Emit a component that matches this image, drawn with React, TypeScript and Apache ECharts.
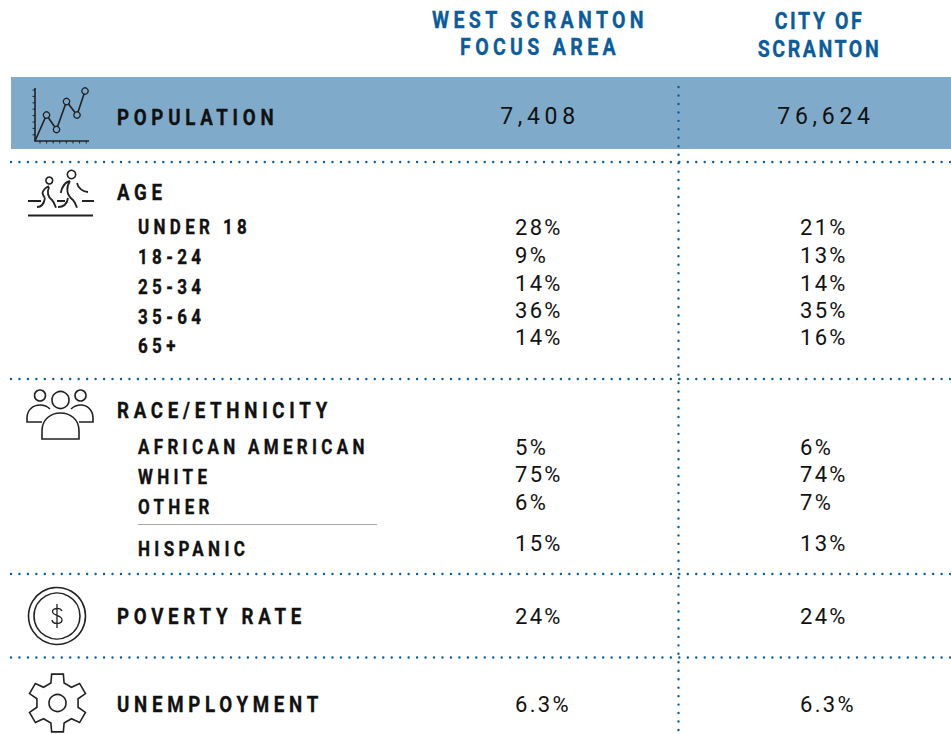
import React, { useEffect, useRef } from "react";
import * as echarts from "echarts";

const headerWest = ["WEST SCRANTON", "FOCUS AREA"];
const headerCity = ["CITY OF", "SCRANTON"];
const populationLabel = "POPULATION";
const populationValues = ["7,408", "76,624"];
const ageLabel = "AGE";
const ageGroups = ["UNDER 18", "18-24", "25-34", "35-64", "65+"];
const ageWest = ["28%", "9%", "14%", "36%", "14%"];
const ageCity = ["21%", "13%", "14%", "35%", "16%"];
const raceLabel = "RACE/ETHNICITY";
const raceGroups = ["AFRICAN AMERICAN", "WHITE", "OTHER", "HISPANIC"];
const raceWest = ["5%", "75%", "6%", "15%"];
const raceCity = ["6%", "74%", "7%", "13%"];
const povertyLabel = "POVERTY RATE";
const povertyValues = ["24%", "24%"];
const unemploymentLabel = "UNEMPLOYMENT";
const unemploymentValues = ["6.3%", "6.3%"];

const ageLabelY = [228, 258, 288, 318, 347];
const ageValueY = [227.5, 255.5, 283.5, 310.5, 337.5];
const raceLabelY = [448, 478, 508, 550];
const raceValueY = [447.5, 474.5, 502.5, 543.5];
const dividerY = [162, 379, 574, 657.5];
const WEST_X = 515;
const CITY_X = 800;
const BLUE = "#0b5c9b";
const INK = "#111";

const ICON_STROKE = { fill: "none", stroke: "#222", lineWidth: 1.6 };

function gearPoints(cx: number, cy: number) {
  const pts: number[][] = [];
  for (let i = 0; i < 6; i++) {
    const a = -Math.PI / 2 + (i * Math.PI) / 3;
    const at = (r: number, d: number) => [cx + r * Math.cos(a + d), cy + r * Math.sin(a + d)];
    pts.push(at(21, -0.32), at(29.5, -0.2), at(29.5, 0.2), at(21, 0.32));
  }
  return pts;
}

const RUNNERS_D =
  "M28 201L41 201M57 201L65 201M82 201L94 201M28 215.5L93 215.5" +
  "M49 186C45 188 43 191 42.5 193C43 196 44 197 45 198M49 187C47 192 48 197 52 200C54 202 55 205 56 207.7" +
  "M37 207C41 207 44 204 45 198" +
  "M70 181C65 182 62 187 60.7 193M70 181C66 187 66 195 73 200C75 202 76 205 77 207.7" +
  "M58 207C63 207 67 204 68 198M77 183C78 188 83 192 88 192";
const DOMES_D =
  "M42 439L79 439L79 431C79 419 70 413 60.5 413C51 413 42 419 42 431Z" +
  "M42 422L27 422L27 418C27 410 33 405 40 405C44 405 47 406 50 409" +
  "M79 422L93 422L93 418C93 410 87 405 81 405C77 405 74 406 71 409";
const DOLLAR_D =
  "M57 604L57 628M62 611C60 607 52 608 52.5 612C53 616 62 615 62 620C62 624 53 625 52 620";

echarts.graphic.registerShape("runners", echarts.graphic.extendPath(RUNNERS_D, {}) as any);
echarts.graphic.registerShape("domes", echarts.graphic.extendPath(DOMES_D, {}) as any);
echarts.graphic.registerShape("dollar", echarts.graphic.extendPath(DOLLAR_D, {}) as any);

const spacing = new Map<string, number>();

function label(
  text: string,
  x: number,
  y: number,
  size: number,
  space: number,
  opts: { color?: string; align?: string; scaleX?: number; weight?: number } = {},
) {
  spacing.set(text, space);
  const weight = opts.weight ?? 700;
  const color = opts.color ?? INK;
  return {
    type: "text",
    x,
    y,
    scaleX: opts.scaleX ?? 1,
    z: 5,
    style: {
      text,
      fill: color,
      ...(weight === 700 ? { stroke: color, lineWidth: 0.35 } : {}),
      fontFamily: "Roboto",
      fontSize: size,
      fontWeight: weight,
      textAlign: opts.align ?? "left",
      textVerticalAlign: "middle",
    },
  };
}

const heading = (t: string, y: number) => label(t, 117, y, 22, 5.55, { scaleX: 0.85 });
const sub = (t: string, y: number) => label(t, 138, y, 20, 5.1, { scaleX: 0.85 });
const value = (t: string, x: number, y: number) =>
  label(t, x, y, 22, 2.3, { weight: 400 });

function buildElements() {
  const els: any[] = [];
  els.push({
    type: "rect",
    shape: { x: 11, y: 77, width: 940, height: 72 },
    style: { fill: "#7faac9" },
    z: 1,
  });
  dividerY.forEach((y) =>
    els.push({
      type: "line",
      shape: { x1: 11, y1: y, x2: 951, y2: y },
      style: { stroke: BLUE, lineWidth: 2.4, lineDash: [0.01, 8.45], lineCap: "round" },
      z: 2,
    }),
  );
  els.push({
    type: "line",
    shape: { x1: 678.5, y1: 87, x2: 678.5, y2: 734 },
    style: { stroke: BLUE, lineWidth: 2.4, lineDash: [0.01, 8.45], lineCap: "round" },
    z: 2,
  });
  els.push({
    type: "line",
    shape: { x1: 138, y1: 524.5, x2: 377, y2: 524.5 },
    style: { stroke: "#aaa", lineWidth: 1 },
    z: 2,
  });

  headerWest.forEach((t, i) =>
    els.push(label(t, 540, [20, 47][i], 23, 5.1, { color: BLUE, align: "center", scaleX: 0.85 })),
  );
  headerCity.forEach((t, i) =>
    els.push(label(t, 819.5, [21, 49][i], 23, 3.0, { color: BLUE, align: "center", scaleX: 0.85 })),
  );

  els.push(heading(populationLabel, 117));
  els.push(label(populationValues[0], 540, 116, 23, 4.7, { align: "center", weight: 400 }));
  els.push(label(populationValues[1], 826, 116, 23, 4.7, { align: "center", weight: 400 }));

  els.push(heading(ageLabel, 192));
  ageGroups.forEach((t, i) => {
    els.push(sub(t, ageLabelY[i]));
    els.push(value(ageWest[i], WEST_X, ageValueY[i]));
    els.push(value(ageCity[i], CITY_X, ageValueY[i]));
  });

  els.push(heading(raceLabel, 410));
  raceGroups.forEach((t, i) => {
    els.push(sub(t, raceLabelY[i]));
    els.push(value(raceWest[i], WEST_X, raceValueY[i]));
    els.push(value(raceCity[i], CITY_X, raceValueY[i]));
  });

  els.push(heading(povertyLabel, 616));
  els.push(value(povertyValues[0], WEST_X, 616));
  els.push(value(povertyValues[1], CITY_X, 616));

  els.push(heading(unemploymentLabel, 704));
  els.push(value(unemploymentValues[0], WEST_X, 704));
  els.push(value(unemploymentValues[1], CITY_X, 704));

  // line-chart icon
  els.push({ type: "polyline", shape: { points: [[35, 88], [35, 141], [89, 141]] }, style: ICON_STROKE, z: 3 });
  for (let i = 0; i < 8; i++) {
    els.push({ type: "line", shape: { x1: 32.5, y1: 90 + i * 6.4, x2: 35, y2: 90 + i * 6.4 }, style: { stroke: "#222", lineWidth: 1 }, z: 3 });
    els.push({ type: "line", shape: { x1: 40 + i * 6.6, y1: 141, x2: 40 + i * 6.6, y2: 143.5 }, style: { stroke: "#222", lineWidth: 1 }, z: 3 });
  }
  const iconPts = [[35, 141], [46.5, 115], [56.5, 129.5], [66.5, 101.5], [77, 115], [85, 91]];
  els.push({ type: "polyline", shape: { points: iconPts }, style: ICON_STROKE, z: 3 });
  iconPts.slice(1).forEach((p) =>
    els.push({ type: "circle", shape: { cx: p[0], cy: p[1], r: 3.2 }, style: { fill: "#7faac9", stroke: "#222", lineWidth: 1.3 }, z: 4 }),
  );

  // runners icon
  els.push({ type: "runners", style: { ...ICON_STROKE, lineWidth: 1.8 }, z: 3 });
  els.push({ type: "circle", shape: { cx: 49.3, cy: 180.5, r: 3.4 }, style: ICON_STROKE, z: 3 });
  els.push({ type: "circle", shape: { cx: 71.5, cy: 174.5, r: 4.2 }, style: ICON_STROKE, z: 3 });

  // people icon
  els.push({ type: "domes", style: ICON_STROKE, z: 3 });
  els.push({ type: "circle", shape: { cx: 40, cy: 395.5, r: 5.5 }, style: ICON_STROKE, z: 3 });
  els.push({ type: "circle", shape: { cx: 60.5, cy: 400, r: 8.5 }, style: ICON_STROKE, z: 3 });
  els.push({ type: "circle", shape: { cx: 80.5, cy: 395.5, r: 5.5 }, style: ICON_STROKE, z: 3 });

  // coin icon
  els.push({ type: "circle", shape: { cx: 57, cy: 616, r: 28.5 }, style: ICON_STROKE, z: 3 });
  els.push({ type: "circle", shape: { cx: 57, cy: 616, r: 23 }, style: ICON_STROKE, z: 3 });
  els.push({ type: "dollar", style: { ...ICON_STROKE, lineWidth: 1.3 }, z: 3 });

  // gear icon
  els.push({ type: "polygon", shape: { points: gearPoints(57.5, 703) }, style: ICON_STROKE, z: 3 });
  els.push({ type: "circle", shape: { cx: 57.5, cy: 703, r: 8.5 }, style: ICON_STROKE, z: 3 });
  return els;
}

export default function App() {
  const ref = useRef<HTMLDivElement>(null);
  useEffect(() => {
    const chart = echarts.init(ref.current!, undefined, { renderer: "svg" });
    chart.setOption({ animation: false, graphic: { elements: buildElements() } });
    ref.current!.querySelectorAll("text").forEach((el) => {
      const s = spacing.get(el.textContent || "");
      if (s !== undefined) (el as SVGTextElement).style.letterSpacing = s + "px";
    });
    return () => chart.dispose();
  }, []);
  return (
    <div
      ref={ref}
      style={{ position: "absolute", left: 0, top: 0, width: 951, height: 734, background: "#fff" }}
    />
  );
}
